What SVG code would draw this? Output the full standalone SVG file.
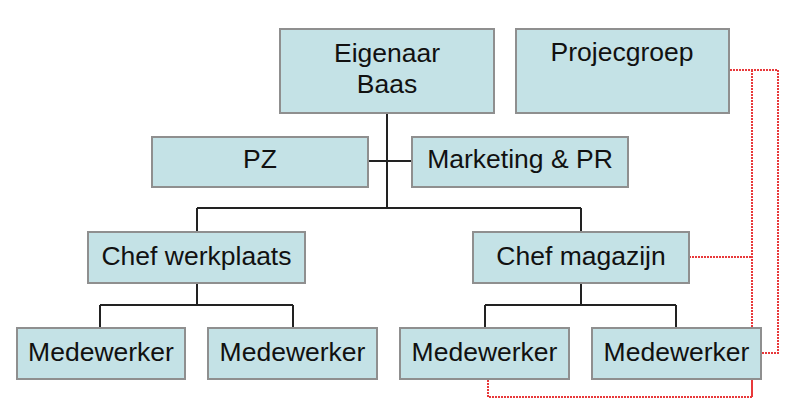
<svg xmlns="http://www.w3.org/2000/svg" width="805" height="415" viewBox="0 0 805 415">
<style>
.box{fill:#c4e2e6;stroke:#8f8f8f;stroke-width:2}
.t{font-family:"Liberation Sans",Arial,sans-serif;font-size:26.5px;fill:#111;text-anchor:middle}
.c{fill:none;stroke:#222;stroke-width:2}
.r{fill:none;stroke:#e8393b;stroke-width:2;stroke-dasharray:2 1}
</style>
<rect width="805" height="415" fill="#fff"/>
<g id="connectors">
<path class="c" d="M387 113V208M368 161H412M197 208H581M197 208V232M581 208V232"/>
<path class="c" d="M197 283V305M100 305H293M100 305V328M293 305V328"/>
<path class="c" d="M581 283V305M485 305H676M485 305V328M676 305V328"/>
<path class="r" d="M730 70H778V353H762"/>
<path class="r" d="M752 70V397H488V379"/>
<path class="r" d="M689 257H752"/>
<path class="r" d="M752 378V397"/>
</g>
<g id="eigenaar"><rect class="box" x="280" y="29" width="214" height="84"/><text class="t" x="387" y="62">Eigenaar</text><text class="t" x="387" y="93">Baas</text></g>
<g id="projecgroep"><rect class="box" x="516" y="29" width="213" height="84"/><text class="t" x="622" y="61">Projecgroep</text></g>
<g id="pz"><rect class="box" x="152" y="137" width="216" height="50"/><text class="t" x="260" y="168">PZ</text></g>
<g id="marketing"><rect class="box" x="412" y="137" width="216" height="50"/><text class="t" x="520" y="168">Marketing &amp; PR</text></g>
<g id="chef-werkplaats"><rect class="box" x="88" y="232" width="217" height="51"/><text class="t" x="196.5" y="265">Chef werkplaats</text></g>
<g id="chef-magazijn"><rect class="box" x="473" y="232" width="216" height="51"/><text class="t" x="581" y="265">Chef magazijn</text></g>
<g id="medewerker1"><rect class="box" x="17" y="328" width="168" height="51"/><text class="t" x="101" y="361">Medewerker</text></g>
<g id="medewerker2"><rect class="box" x="208" y="328" width="169" height="51"/><text class="t" x="292.5" y="361">Medewerker</text></g>
<g id="medewerker3"><rect class="box" x="400" y="328" width="169" height="51"/><text class="t" x="484.5" y="361">Medewerker</text></g>
<g id="medewerker4"><rect class="box" x="592" y="328" width="169" height="51"/><text class="t" x="676.5" y="361">Medewerker</text></g>
</svg>
